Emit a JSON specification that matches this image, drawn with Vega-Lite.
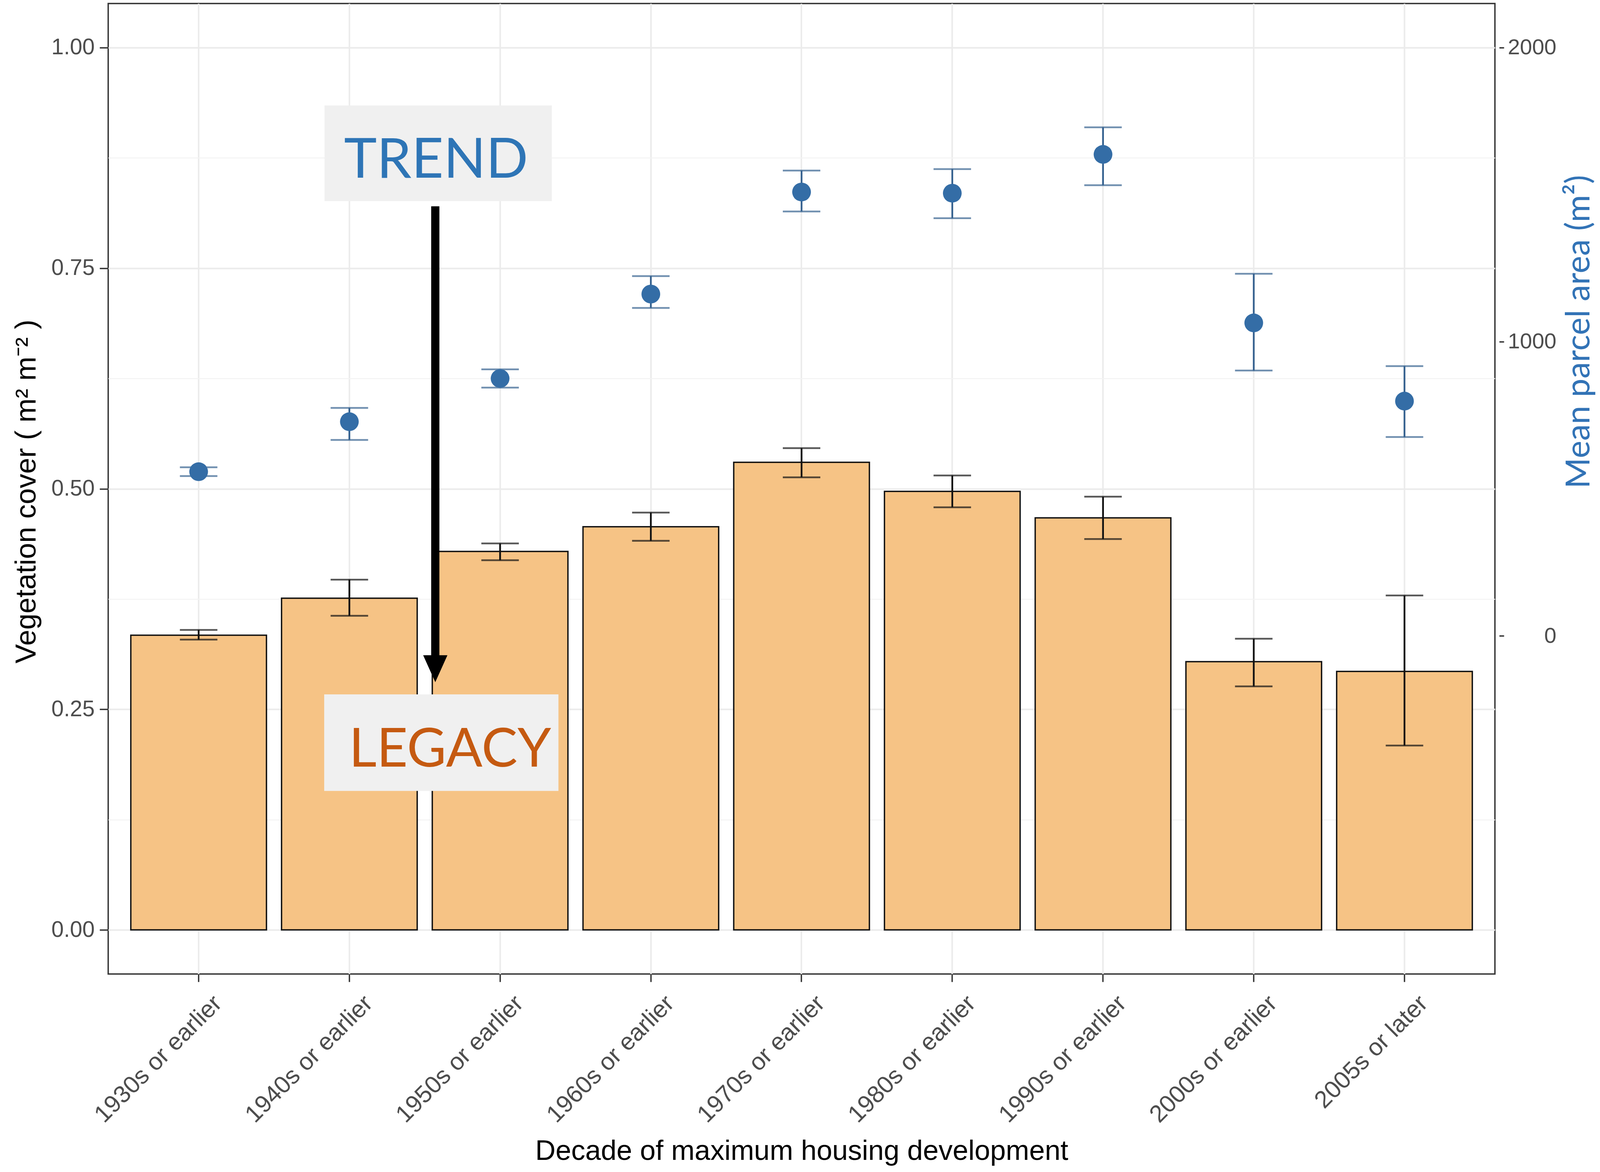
{
  "$schema": "https://vega.github.io/schema/vega-lite/v6.json",
  "width": 3550,
  "height": 2485,
  "autosize": {"type": "none"},
  "padding": {"left": 277, "top": 9, "right": 269, "bottom": 507},
  "background": "white",
  "config": {
    "font": "Liberation Sans",
    "view": {"stroke": "#333333", "strokeWidth": 3.5}
  },
  "datasets": {
    "decades": [
      {"decade": "1930s or earlier", "veg": 0.334, "veg_lo": 0.329, "veg_hi": 0.340, "area": 558, "area_lo": 543, "area_hi": 573},
      {"decade": "1940s or earlier", "veg": 0.376, "veg_lo": 0.356, "veg_hi": 0.397, "area": 728, "area_lo": 666, "area_hi": 775},
      {"decade": "1950s or earlier", "veg": 0.429, "veg_lo": 0.419, "veg_hi": 0.438, "area": 875, "area_lo": 844, "area_hi": 906},
      {"decade": "1960s or earlier", "veg": 0.457, "veg_lo": 0.441, "veg_hi": 0.473, "area": 1162, "area_lo": 1115, "area_hi": 1223},
      {"decade": "1970s or earlier", "veg": 0.530, "veg_lo": 0.513, "veg_hi": 0.546, "area": 1509, "area_lo": 1443, "area_hi": 1582},
      {"decade": "1980s or earlier", "veg": 0.497, "veg_lo": 0.479, "veg_hi": 0.515, "area": 1505, "area_lo": 1420, "area_hi": 1587},
      {"decade": "1990s or earlier", "veg": 0.467, "veg_lo": 0.443, "veg_hi": 0.491, "area": 1637, "area_lo": 1532, "area_hi": 1729},
      {"decade": "2000s or earlier", "veg": 0.304, "veg_lo": 0.276, "veg_hi": 0.330, "area": 1064, "area_lo": 902, "area_hi": 1231},
      {"decade": "2005s or later", "veg": 0.293, "veg_lo": 0.209, "veg_hi": 0.379, "area": 798, "area_lo": 676, "area_hi": 917}
    ]
  },
  "data": {"name": "decades"},
  "resolve": {"scale": {"x": "independent", "y": "independent"}},
  "layer": [
    {
      "layer": [
        {
          "mark": {"type": "bar", "fill": "#F6C385", "stroke": "#111111", "strokeWidth": 3.5},
          "encoding": {
            "x": {
              "field": "decade",
              "type": "nominal",
              "sort": null,
              "scale": {"paddingInner": 0.1, "paddingOuter": 0.15},
              "axis": {
                "orient": "bottom",
                "domain": false,
                "grid": true,
                "gridColor": "#EBEBEB",
                "gridWidth": 4,
                "bandPosition": 0.5,
                "tickColor": "#333333",
                "tickWidth": 3.5,
                "tickSize": 20,
                "labelAngle": 315,
                "labelAlign": "right",
                "labelBaseline": "top",
                "labelFontSize": 62,
                "labelColor": "#4D4D4D",
                "labelPadding": 24,
                "labelOffset": 28,
                "labelLimit": 1000,
                "labelOverlap": false,
                "labelBound": false,
                "title": "Decade of maximum housing development",
                "titleFontSize": 72,
                "titleFontWeight": "normal",
                "titleColor": "#000000",
                "titleX": 1775,
                "titleY": 475,
                "titleAlign": "center",
                "titleBaseline": "alphabetic"
              }
            },
            "y": {
              "field": "veg",
              "type": "quantitative",
              "scale": {"domain": [-0.05, 1.05], "nice": false, "zero": false},
              "axis": {
                "orient": "left",
                "values": [0, 0.125, 0.25, 0.375, 0.5, 0.625, 0.75, 0.875, 1],
                "format": ".2f",
                "labelExpr": "datum.value % 0.25 === 0 ? datum.label : ''",
                "domain": false,
                "grid": true,
                "gridColor": {"condition": {"test": "datum.value % 0.25 === 0", "value": "#EBEBEB"}, "value": "#F3F3F3"},
                "gridWidth": {"condition": {"test": "datum.value % 0.25 === 0", "value": 4}, "value": 2.5},
                "tickOpacity": {"condition": {"test": "datum.value % 0.25 === 0", "value": 1}, "value": 0},
                "tickColor": "#333333",
                "tickWidth": 3.5,
                "tickSize": 22,
                "labelColor": "#4D4D4D",
                "labelFontSize": 57,
                "labelPadding": 13,
                "labelOverlap": false,
                "labelFlush": false,
                "title": "Vegetation cover ( m² m⁻² )",
                "titleFontSize": 74,
                "titleFontWeight": "normal",
                "titleColor": "#000000",
                "titleAngle": 270,
                "titleAlign": "center",
                "titleBaseline": "alphabetic",
                "titleX": -187,
                "titleY": 1249
              }
            },
            "y2": {"datum": 0}
          }
        },
        {
          "mark": {"type": "rule", "color": "#111111", "strokeWidth": 4.5},
          "encoding": {
            "x": {"field": "decade", "type": "nominal", "sort": null},
            "y": {"field": "veg_lo", "type": "quantitative"},
            "y2": {"field": "veg_hi"}
          }
        },
        {
          "mark": {"type": "tick", "color": "#111111", "size": 96, "thickness": 4.5},
          "encoding": {
            "x": {"field": "decade", "type": "nominal", "sort": null},
            "y": {"field": "veg_lo", "type": "quantitative"}
          }
        },
        {
          "mark": {"type": "tick", "color": "#111111", "size": 96, "thickness": 4.5},
          "encoding": {
            "x": {"field": "decade", "type": "nominal", "sort": null},
            "y": {"field": "veg_hi", "type": "quantitative"}
          }
        }
      ]
    },
    {
      "layer": [
        {
          "mark": {"type": "rule", "color": "#35618F", "strokeWidth": 4.5},
          "encoding": {
            "x": {
              "field": "decade",
              "type": "nominal",
              "sort": null,
              "scale": {"paddingInner": 0.1, "paddingOuter": 0.15},
              "axis": null
            },
            "y": {
              "field": "area_lo",
              "type": "quantitative",
              "scale": {"domain": [-1150, 2150], "nice": false, "zero": false},
              "axis": {
                "orient": "right",
                "values": [0, 1000, 2000],
                "format": "d",
                "domain": false,
                "grid": false,
                "offset": 11,
                "tickSize": 12,
                "tickColor": "#333333",
                "tickWidth": 3.5,
                "labelAlign": "right",
                "labelBaseline": "middle",
                "labelPadding": 134,
                "labelFontSize": 56,
                "labelColor": "#4D4D4D",
                "labelFlush": false,
                "title": "Mean parcel area (m²)",
                "titleFont": "Lato",
                "titleFontSize": 85,
                "titleFontWeight": "normal",
                "titleColor": "#3273B6",
                "titleAngle": 270,
                "titleAlign": "center",
                "titleBaseline": "alphabetic",
                "titleX": 230,
                "titleY": 840
              }
            },
            "y2": {"field": "area_hi"}
          }
        },
        {
          "mark": {"type": "tick", "color": "#35618F", "size": 96, "thickness": 4.5},
          "encoding": {
            "x": {"field": "decade", "type": "nominal", "sort": null},
            "y": {"field": "area_lo", "type": "quantitative"}
          }
        },
        {
          "mark": {"type": "tick", "color": "#35618F", "size": 96, "thickness": 4.5},
          "encoding": {
            "x": {"field": "decade", "type": "nominal", "sort": null},
            "y": {"field": "area_hi", "type": "quantitative"}
          }
        },
        {
          "mark": {"type": "circle", "color": "#346DA6", "opacity": 1, "size": 2300},
          "encoding": {
            "x": {"field": "decade", "type": "nominal", "sort": null},
            "y": {"field": "area", "type": "quantitative"}
          }
        }
      ]
    },
    {
      "data": {"values": [{}]},
      "layer": [
        {
          "mark": {"type": "rect", "fill": "#F0F0F0"},
          "encoding": {
            "x": {"datum": 1.835, "type": "quantitative", "scale": {"domain": [0.4, 9.6], "nice": false, "zero": false}, "axis": null},
            "x2": {"datum": 3.343},
            "y": {"datum": 0.9345, "type": "quantitative", "scale": {"domain": [-0.05, 1.05], "nice": false, "zero": false}, "axis": null},
            "y2": {"datum": 0.826}
          }
        },
        {
          "mark": {"type": "rect", "fill": "#F0F0F0"},
          "encoding": {
            "x": {"datum": 1.833, "type": "quantitative"},
            "x2": {"datum": 3.387},
            "y": {"datum": 0.2669, "type": "quantitative"},
            "y2": {"datum": 0.1575}
          }
        },
        {
          "mark": {"type": "text", "text": "TREND", "font": "Lato", "fontSize": 142, "color": "#2E75B6", "align": "center", "baseline": "alphabetic"},
          "encoding": {
            "x": {"datum": 2.575, "type": "quantitative"},
            "y": {"datum": 0.8526, "type": "quantitative"}
          }
        },
        {
          "mark": {"type": "text", "text": "LEGACY", "font": "Lato", "fontSize": 138, "color": "#C55A11", "align": "center", "baseline": "alphabetic"},
          "encoding": {
            "x": {"datum": 2.668, "type": "quantitative"},
            "y": {"datum": 0.185, "type": "quantitative"}
          }
        },
        {
          "mark": {"type": "rule", "color": "#000000", "strokeWidth": 21},
          "encoding": {
            "x": {"datum": 2.57, "type": "quantitative"},
            "y": {"datum": 0.8202, "type": "quantitative"},
            "y2": {"datum": 0.2961}
          }
        },
        {
          "mark": {"type": "point", "shape": "M-0.9,-1L0.9,-1L0,1Z", "filled": true, "color": "#000000", "opacity": 1, "size": 4761, "strokeWidth": 0},
          "encoding": {
            "x": {"datum": 2.57, "type": "quantitative"},
            "y": {"datum": 0.2961, "type": "quantitative"}
          }
        }
      ]
    }
  ]
}
